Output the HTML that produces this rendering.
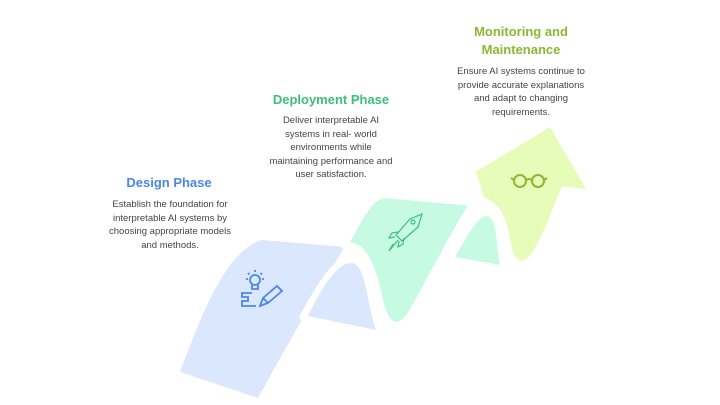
<!DOCTYPE html>
<html><head><meta charset="utf-8"><style>
body{margin:0;width:720px;height:405px;background:#fff;overflow:hidden;position:relative;font-family:"Liberation Sans",sans-serif}
.t{position:absolute;text-align:center;font-weight:bold;font-size:13px}
.d{position:absolute;text-align:center;font-size:9.5px;line-height:13.5px;color:#444}
</style></head><body>
<svg width="720" height="405" style="position:absolute;left:0;top:0">
<!-- blue -->
<path d="M180,372 C200,320 225,250 262,240 L345,247 C330,270 290,340 258,398 Z" fill="#dbe7fd"/>
<path d="M303,317 C318,290 335,258 352,260 C368,262 368,300 380,333 Z" fill="#dbe7fd" stroke="#fff" stroke-width="7" stroke-linejoin="round"/>
<path d="M308,316 C320,292 336,262 352,263 C366,265 366,300 376,330 Z" fill="#dbe7fd"/>
<!-- green -->
<path d="M343,248 C355,230 365,200 383,195 L473,203 C455,230 425,290 410,315 C395,335 385,322 380,300 C370,250 355,240 343,248 Z" fill="#c6fae3" stroke="#fff" stroke-width="6"/>
<path d="M450,258 C462,240 475,212 487,213 C500,215 498,250 503,267 Z" fill="#c6fae3" stroke="#fff" stroke-width="7" stroke-linejoin="round"/>
<path d="M455,257 C466,240 476,216 487,216 C498,218 496,250 500,265 Z" fill="#c6fae3"/>
<!-- yellow arrow -->
<path d="M473,173 L550,125 L587,189 L565,187 C555,210 545,240 532,258 C520,270 512,262 508,245 C505,225 500,205 482,200 Z" fill="#e6fcb8" stroke="#fff" stroke-width="6" stroke-linejoin="round"/>
<path d="M474,173 L550,127 L586,189 L565,187 L490,176 Z" fill="#e6fcb8"/>
<!-- icons -->
<g fill="none" stroke="#4a86e8" stroke-width="1.8">
<circle cx="255" cy="280" r="5"/><path d="M252,285 v4 h6 v-4"/>
<path d="M255,270v2M246,279h2M262,279h2M248,273l1.5,1.5M262,273l-1.5,1.5"/>
<path d="M252,293 h-10 v4 h6 v4 h-6 v5 h14"/>
<path d="M260,306 l3,-8 l14,-12 l5,5 l-14,12 z M263,298 l5,5"/>
</g>
<g fill="none" stroke="#3dbf7a" stroke-width="1.2">
<path d="M422,214 l-12,5 l-14,16 l6,6 l16,-14 z"/><circle cx="413" cy="222" r="2"/>
<path d="M398,232 l-6,1 l-3,5 l6,-1 M404,238 l-1,6 l-5,3 l1,-6 M398,240 l-9,11 l4,-7"/>
</g>
<g fill="none" stroke="#8ab832" stroke-width="2">
<circle cx="520" cy="181" r="6"/><circle cx="538" cy="181" r="6"/><path d="M526,180 q3,-2 6,0 M514,180 l-3,-2 M544,180 l3,-2"/>
</g>
</svg>
<div class="t" style="left:99px;top:175px;width:140px;color:#4a86e8">Design Phase</div>
<div class="d" style="left:90px;top:198px;width:160px">Establish the foundation for<br>interpretable AI systems by<br>choosing appropriate models<br>and methods.</div>
<div class="t" style="left:251px;top:92px;width:160px;color:#3dbf7a">Deployment Phase</div>
<div class="d" style="left:251px;top:114px;width:160px">Deliver interpretable AI<br>systems in real- world<br>environments while<br>maintaining performance and<br>user satisfaction.</div>
<div class="t" style="left:441px;top:23px;width:160px;color:#8ab832;line-height:18px">Monitoring and<br>Maintenance</div>
<div class="d" style="left:436px;top:65px;width:170px">Ensure AI systems continue to<br>provide accurate explanations<br>and adapt to changing<br>requirements.</div>
</body></html>
